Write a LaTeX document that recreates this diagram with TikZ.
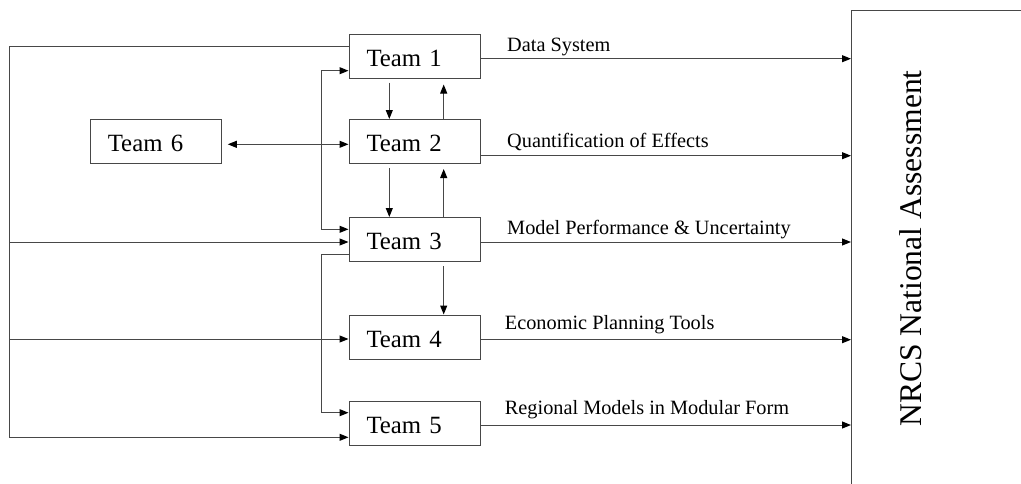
\documentclass[tikz,border=0pt]{standalone}
\usepackage{fontspec}
\setmainfont{Liberation Serif}
\usetikzlibrary{arrows.meta}
\definecolor{linegray}{gray}{0.28}
\tikzset{
  teambox/.style={draw=linegray, line width=1pt, rectangle, minimum width=131pt, minimum height=44pt,
    inner xsep=17.5pt, text width=96pt, align=left, text height=20.5pt, text depth=0pt,
    font=\fontsize{24.8pt}{26pt}\selectfont},
  conn/.style={draw=linegray, line width=1pt},
  tip/.style={Triangle[length=9pt,width=7pt,color=black]},
  arr/.style={conn, -{Triangle[length=9pt,width=7pt,color=black]}},
  darr/.style={conn, {Triangle[length=9pt,width=7pt,color=black]}-{Triangle[length=9pt,width=7pt,color=black]}},
  lbl/.style={anchor=base west, inner sep=0pt, font=\fontsize{20.3pt}{22pt}\selectfont},
}
\begin{document}
\begin{tikzpicture}[x=1pt,y=-1pt]
\useasboundingbox (0,0) rectangle (1021,483);
\clip (0,0) rectangle (1021,483);

% boxes
\node[teambox] (t1) at (414.5,56) {Team 1};
\node[teambox] (t2) at (414.5,141.5) {Team 2};
\node[teambox] (t6) at (155.8,141.5) {Team 6};
\node[teambox] (t3) at (414.5,239.5) {Team 3};
\node[teambox] (t4) at (414.5,337) {Team 4};
\node[teambox] (t5) at (414.5,423) {Team 5};

% NRCS box (open to the right and bottom)
\node[draw=linegray, line width=1pt, rectangle, anchor=north west, minimum width=220pt, minimum height=520pt, inner sep=0pt] (nrcs) at (851,10) {};
\node[rotate=90, anchor=base, inner sep=0pt, font=\fontsize{31.6pt}{33pt}\selectfont] (nrcstext) at (921.7,248.5) {NRCS National Assessment};

% outputs to NRCS
\coordinate (o1) at ([yshift=-2.7pt]t1.east);
\coordinate (o2) at ([yshift=-14.2pt]t2.east);
\coordinate (o3) at ([yshift=-2.5pt]t3.east);
\coordinate (o4) at ([yshift=-2.7pt]t4.east);
\coordinate (o5) at ([yshift=-2pt]t5.east);
\draw[arr] (o1) -- (o1 -| nrcs.west);
\draw[arr] (o2) -- (o2 -| nrcs.west);
\draw[arr] (o3) -- (o3 -| nrcs.west);
\draw[arr] (o4) -- (o4 -| nrcs.west);
\draw[arr] (o5) -- (o5 -| nrcs.west);

% labels
\node[lbl] (l1) at (507,51.7) {Data System};
\node[lbl] (l2) at (507,147.7) {Quantification of Effects};
\node[lbl] (l3) at (507,234.3) {Model Performance \& Uncertainty};
\node[lbl] (l4) at (504.7,329.3) {Economic Planning Tools};
\node[lbl] (l5) at (504.7,414) {Regional Models in Modular Form};

% outer left bus
\coordinate (lb) at (9,0);
\coordinate (a1) at ([yshift=9.3pt]t1.west);
\coordinate (a3) at ([yshift=-2.5pt]t3.west);
\coordinate (a4) at ([yshift=-2pt]t4.west);
\coordinate (a5) at ([yshift=-14.3pt]t5.west);
\draw[arr] (a1) -- (a1 -| lb) -- (a5 -| lb) -- (a5);
\draw[arr] (a3 -| lb) -- (a3);
\draw[arr] (a4 -| lb) -- (a4);

% inner bus
\coordinate (ib) at (321.3,0);
\coordinate (b1) at ([yshift=-14.7pt]t1.west);
\coordinate (b3) at ([yshift=10.2pt]t3.west);
\coordinate (c3) at ([yshift=-14.5pt]t3.west);
\coordinate (c5) at ([yshift=10.3pt]t5.west);
\draw[darr] (b1) -- (b1 -| ib) -- (b3 -| ib) -- (b3);
\draw[arr] (c3) -- (c3 -| ib) -- (c5 -| ib) -- (c5);

% Team 6 <-> Team 2
\coordinate (d2) at ([yshift=-2.8pt]t2.west);
\draw[darr] (d2 -| t6.east) ++(6,0) -- (d2);

% vertical arrows
\draw[arr] ([xshift=-25.2pt,yshift=-4pt]t1.south) -- ([xshift=-25.2pt]t2.north);
\draw[arr] ([xshift=29.2pt]t2.north) -- ([xshift=29.2pt,yshift=-6pt]t1.south);
\draw[arr] ([xshift=-25.2pt,yshift=-4pt]t2.south) -- ([xshift=-25.2pt]t3.north);
\draw[arr] ([xshift=29.2pt]t3.north) -- ([xshift=29.2pt,yshift=-5pt]t2.south);
\draw[arr] ([xshift=29.2pt,yshift=-4pt]t3.south) -- ([xshift=29.2pt]t4.north);
\end{tikzpicture}
\end{document}
